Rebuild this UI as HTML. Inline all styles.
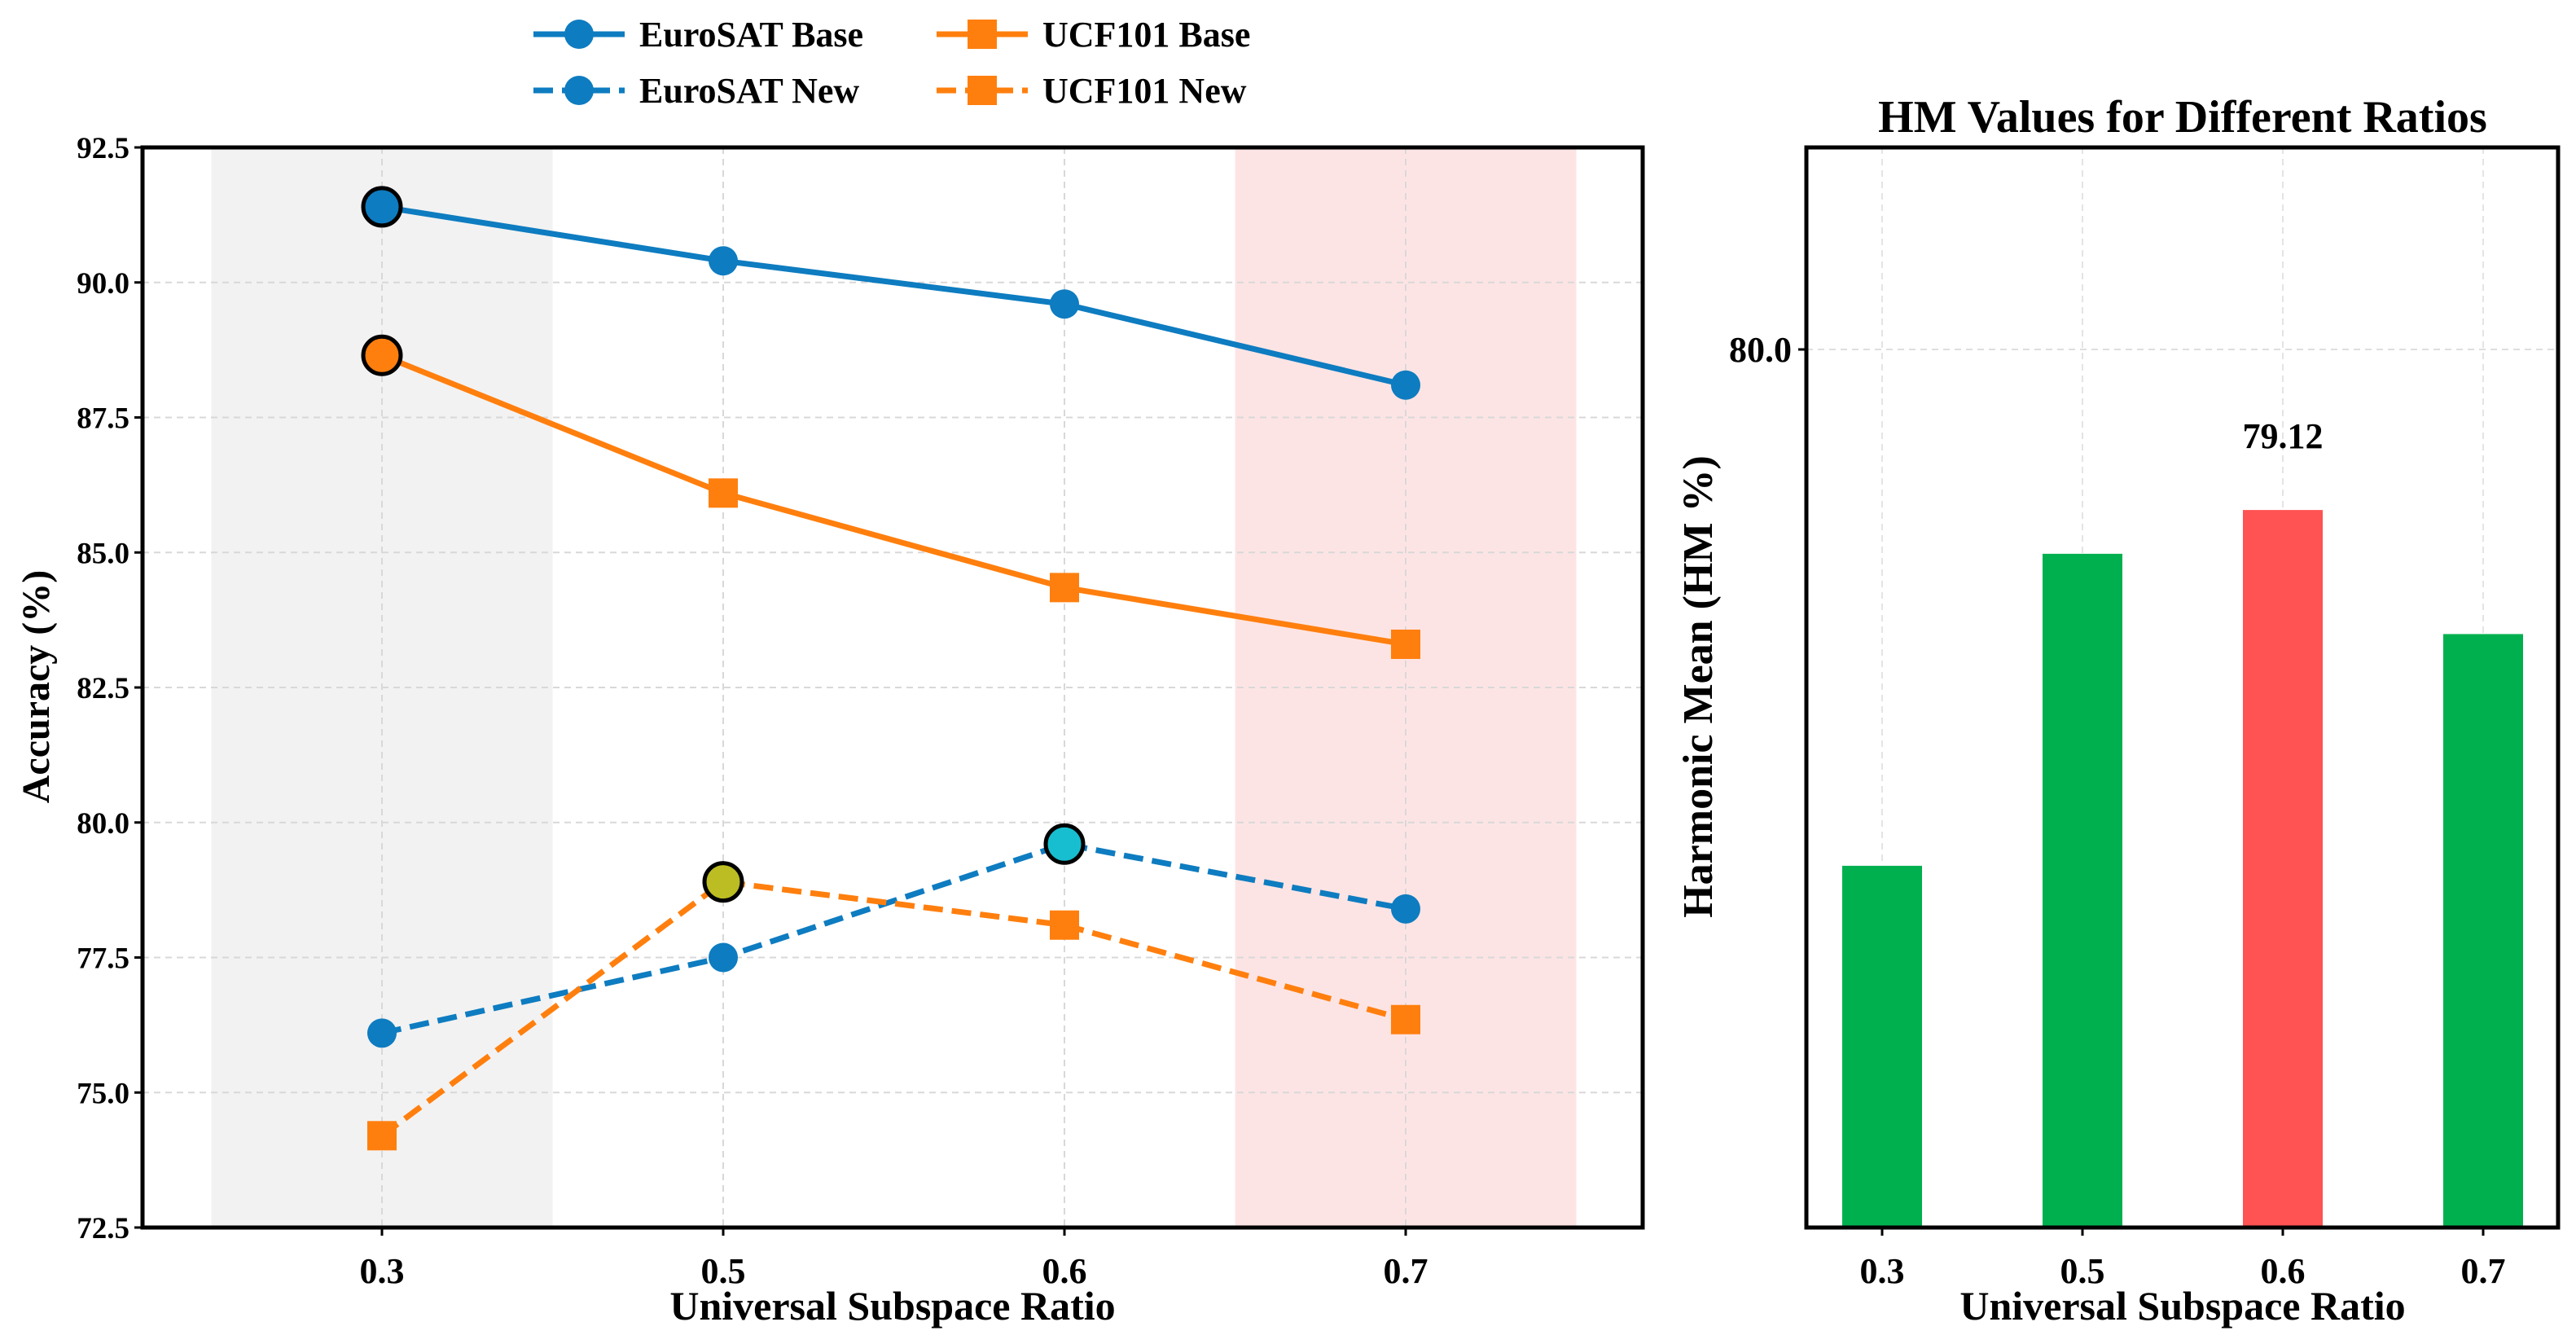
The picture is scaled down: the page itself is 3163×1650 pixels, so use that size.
<!DOCTYPE html>
<html><head><meta charset="utf-8"><style>
body{margin:0;background:#fff}
svg{display:block;font-family:"Liberation Serif",serif;font-weight:bold}
</style></head><body>
<svg id="c" width="3163" height="1650" viewBox="0 0 3163 1650" xmlns="http://www.w3.org/2000/svg">
<g id="L"></g>
<g id="R"></g>
</svg>
<script>
const cats = ["0.3","0.5","0.6","0.7"];
const euroBase = [91.4, 90.4, 89.6, 88.1];
const ucfBase = [88.65, 86.1, 84.35, 83.3];
const euroNew = [76.1, 77.5, 79.6, 78.4];
const ucfNew = [74.2, 78.9, 78.1, 76.35];
const yTicksL = [72.5, 75.0, 77.5, 80.0, 82.5, 85.0, 87.5, 90.0, 92.5];
const hmValues = [77.17, 78.88, 79.12, 78.44];
const hmTicks = [80.0];
const hmBest = 2;

const NS="http://www.w3.org/2000/svg";
function mk(p,t,a){const e=document.createElementNS(NS,t);for(const k in a)e.setAttribute(k,a[k]);p.appendChild(e);return e;}
const L=document.getElementById('L'), R=document.getElementById('R');
const lx0=175,lx1=2017,ly0=181,ly1=1507;
const xL=i=>469+i*419;
const yL=v=>ly1-(v-72.5)/20*(ly1-ly0);
let e;
e=mk(L,'rect',{x:xL(-0.5),y:ly0,width:419,height:ly1-ly0,fill:'#f2f2f2'});

e=mk(L,'rect',{x:xL(2.5),y:ly0,width:419,height:ly1-ly0,fill:'#fde4e4'});

yTicksL.forEach(v=>{
 e=mk(L,'line',{x1:lx0,x2:lx1,y1:yL(v),y2:yL(v),stroke:'#d8d8d8','stroke-width':2,'stroke-dasharray':'8 6'});
 
 mk(L,'line',{x1:lx0-10,x2:lx0,y1:yL(v),y2:yL(v),stroke:'#000','stroke-width':3});
 e=mk(L,'text',{x:lx0-16,y:yL(v)+13,'text-anchor':'end','font-size':37});e.textContent=v.toFixed(1);
 
});
cats.forEach((c,i)=>{
 e=mk(L,'line',{x1:xL(i),x2:xL(i),y1:ly0,y2:ly1,stroke:'#d8d8d8','stroke-width':2,'stroke-dasharray':'8 6'});
 
 mk(L,'line',{x1:xL(i),x2:xL(i),y1:ly1,y2:ly1+10,stroke:'#000','stroke-width':3});
 e=mk(L,'text',{x:xL(i),y:1575,'text-anchor':'middle','font-size':44});e.textContent=c;
 
});
const BLUE='#0e7cc0',ORANGE='#ff7f0e';
function series(vals,col,dash,shape,name){
 const g=mk(L,'g',{});
 
 mk(g,'polyline',{points:vals.map((v,i)=>xL(i)+','+yL(v)).join(' '),fill:'none',stroke:col,'stroke-width':7,'stroke-dasharray':dash?'24 11':'none'});
 vals.forEach((v,i)=>{
  let m;
  if(shape==='o')m=mk(g,'circle',{cx:xL(i),cy:yL(v),r:18,fill:col});
  else m=mk(g,'rect',{x:xL(i)-18,y:yL(v)-18,width:36,height:36,fill:col});
  
 });
}
series(euroBase,BLUE,false,'o','eurosat-base-line');
series(ucfBase,ORANGE,false,'s','ucf101-base-line');
series(euroNew,BLUE,true,'o','eurosat-new-line');
series(ucfNew,ORANGE,true,'s','ucf101-new-line');
function hl(i,v,col,name){e=mk(L,'circle',{cx:xL(i),cy:yL(v),r:23,fill:col,stroke:'#000','stroke-width':5});
 }
hl(0,euroBase[0],BLUE,'best-eurosat-base');
hl(0,ucfBase[0],ORANGE,'best-ucf101-base');
hl(1,ucfNew[1],'#bcbd22','best-ucf101-new');
hl(2,euroNew[2],'#17becf','best-eurosat-new');
e=mk(L,'rect',{x:lx0,y:ly0,width:lx1-lx0,height:ly1-ly0,fill:'none',stroke:'#000','stroke-width':5});

e=mk(L,'text',{x:1096,y:1620,'text-anchor':'middle','font-size':50});e.textContent='Universal Subspace Ratio';

e=mk(L,'text',{x:0,y:0,'text-anchor':'middle','font-size':48,transform:'translate(60,843) rotate(-90)'});e.textContent='Accuracy (%)';

const leg=[["EuroSAT Base",BLUE,false,'o',655,42],["EuroSAT New",BLUE,true,'o',655,111],["UCF101 Base",ORANGE,false,'s',1150,42],["UCF101 New",ORANGE,true,'s',1150,111]];
leg.forEach(d=>{
 const g=mk(L,'g',{});
 
 mk(g,'line',{x1:d[4],x2:d[4]+112,y1:d[5],y2:d[5],stroke:d[1],'stroke-width':7,'stroke-dasharray':d[2]?'24 11':'none'});
 if(d[3]==='o')mk(g,'circle',{cx:d[4]+56,cy:d[5],r:18,fill:d[1]});
 else mk(g,'rect',{x:d[4]+38,y:d[5]-18,width:36,height:36,fill:d[1]});
 const t=mk(g,'text',{x:d[4]+130,y:d[5]+15,'font-size':44});t.textContent=d[0];
});
const rx0=2218,rx1=3141,ry0=181,ry1=1507;
const xR=i=>2311+i*246;
const yR=v=>429+(80-v)*224;
hmTicks.forEach(v=>{
 e=mk(R,'line',{x1:rx0,x2:rx1,y1:yR(v),y2:yR(v),stroke:'#dedede','stroke-width':2,'stroke-dasharray':'8 6'});
 
 mk(R,'line',{x1:rx0-10,x2:rx0,y1:yR(v),y2:yR(v),stroke:'#000','stroke-width':3});
 e=mk(R,'text',{x:rx0-18,y:yR(v)+15,'text-anchor':'end','font-size':44});e.textContent=v.toFixed(1);
 
});
cats.forEach((c,i)=>{
 e=mk(R,'line',{x1:xR(i),x2:xR(i),y1:ry0,y2:ry1,stroke:'#e4e4e4','stroke-width':2,'stroke-dasharray':'8 6'});
 
 const v=hmValues[i];
 e=mk(R,'rect',{x:xR(i)-49,y:yR(v),width:98,height:ry1-yR(v),fill:i===hmBest?'#ff5252':'#00b04f'});
 
 mk(R,'line',{x1:xR(i),x2:xR(i),y1:ry1,y2:ry1+10,stroke:'#000','stroke-width':3});
 e=mk(R,'text',{x:xR(i),y:1575,'text-anchor':'middle','font-size':44});e.textContent=c;
 
});
e=mk(R,'text',{x:xR(hmBest),y:yR(hmValues[hmBest])-76,'text-anchor':'middle','font-size':44});e.textContent=hmValues[hmBest].toFixed(2);

e=mk(R,'rect',{x:rx0,y:ry0,width:rx1-rx0,height:ry1-ry0,fill:'none',stroke:'#000','stroke-width':5});

e=mk(R,'text',{x:2680,y:162,'text-anchor':'middle','font-size':56});e.textContent='HM Values for Different Ratios';

e=mk(R,'text',{x:2680,y:1620,'text-anchor':'middle','font-size':50});e.textContent='Universal Subspace Ratio';

e=mk(R,'text',{x:0,y:0,'text-anchor':'middle','font-size':52,transform:'translate(2102,843) rotate(-90)'});e.textContent='Harmonic Mean (HM %)';

</script>
</body></html>
